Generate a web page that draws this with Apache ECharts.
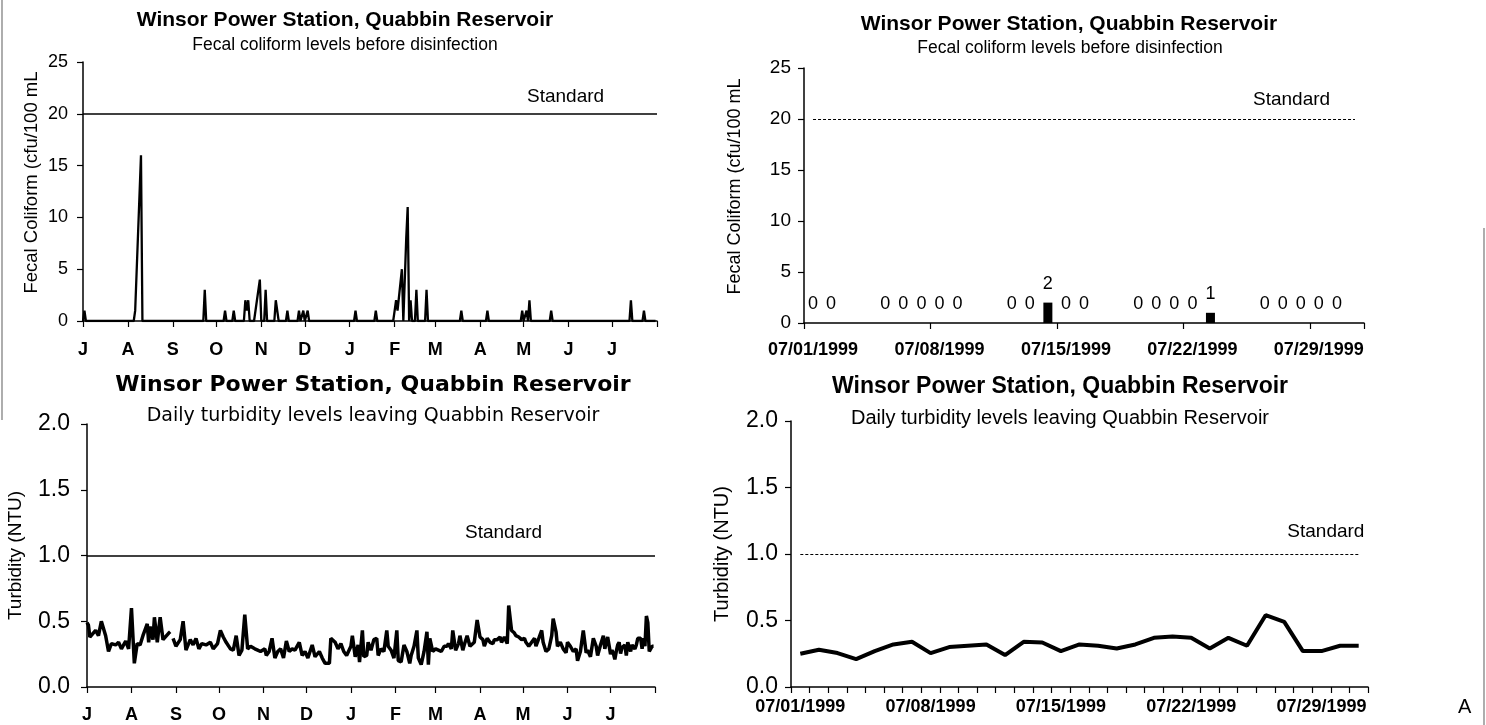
<!DOCTYPE html>
<html><head><meta charset="utf-8">
<script src="https://cdn.jsdelivr.net/npm/echarts@6/dist/echarts.min.js"></script>
<style>html,body{margin:0;padding:0;background:#fff}#c{width:1486px;height:725px}</style>
</head><body><div id="c"></div>
<script>
// ---- Data (days counted from 07/01/1998) ----
const monthTickDays = [0,31,62,92,123,153,184,215,243,274,304,335,365,396];
const monthLetters = ['J','A','S','O','N','D','J','F','M','A','M','J','J'];

// Fecal coliform, July 1998 - July 1999: [day, cfu/100 mL]
const coliformReadings = [
  [0,0],[1,1],[2,0],
  [35,0],[36,1],[37,1],[40,16],[41,0],
  [83,0],[84,3],[85,0],
  [97,0],[98,1],[99,0],
  [103,0],[104,1],[105,0],
  [111,0],[112,2],[113,1],[114,2],[115,0],
  [118,0],[120,2],[122,4],[123,0],
  [125,0],[126,3],[127,0],
  [132,0],[133,2],[134,2],[135,0],
  [140,0],[141,1],[142,0],
  [148,0],[149,1],[150,0],[152,1],[153,0],[155,1],[156,0],
  [187,0],[188,1],[189,0],
  [201,0],[202,1],[203,0],
  [214,0],[215,1],[216,2],[217,1],[218,1],[220,5],[221,0],[222,0],[223,8],[224,11],[225,0],[226,2],[227,0],
  [229,0],[230,3],[231,0],
  [236,0],[237,3],[238,0],
  [260,0],[261,1],[262,0],
  [278,0],[279,1],[280,0],
  [302,0],[303,1],[304,0],[306,1],[307,0],[308,2],[309,0],
  [322,0],[323,1],[324,0],
  [377,0],[378,2],[379,0],
  [386,0],[387,1],[388,0],
  [395,0]
];

// Daily turbidity, July 1998 - June 1999: [day, NTU]
const turbidityReadings = [
  [0,0.49],[1,0.47],[2,0.38],[6,0.43],[8,0.39],[10,0.50],[13,0.39],[15,0.27],[17,0.33],[20,0.32],
  [22,0.34],[24,0.29],[27,0.35],[29,0.29],[31,0.60],[33,0.18],[35,0.33],[37,0.32],[39,0.39],[42,0.48],
  [43,0.34],[44,0.46],[46,0.36],[47,0.53],[49,0.34],[51,0.53],[53,0.36],[54,0.37],[57,0.41],[58,0.42],
  [59,null],[60,0.37],[62,0.31],[65,0.36],[67,0.50],[69,0.28],[72,0.36],[74,0.32],[76,0.37],[78,0.29],
  [80,0.33],[83,0.32],[86,0.34],[88,0.29],[91,0.33],[93,0.43],[95,0.38],[97,0.34],[100,0.29],[102,0.28],
  [104,0.39],[106,0.24],[108,0.28],[110,0.55],[112,0.29],[114,0.31],[117,0.29],[119,0.28],[121,0.27],[124,0.29],
  [125,0.24],[127,0.27],[129,0.37],[131,0.22],[133,0.27],[135,0.29],[137,0.22],[139,0.35],[141,0.27],[143,0.29],
  [145,0.28],[148,0.34],[150,0.24],[152,0.27],[154,0.22],[157,0.32],[159,0.23],[162,0.27],[164,0.22],[166,0.18],
  [169,0.18],[170,0.37],[173,0.34],[175,0.29],[177,0.33],[179,0.27],[181,0.24],[184,0.31],[185,0.39],[187,0.23],
  [189,0.32],[190,0.19],[192,0.43],[193,0.23],[195,0.24],[196,0.34],[198,0.28],[200,0.36],[202,0.37],[203,0.24],
  [205,0.29],[207,0.27],[209,0.43],[210,0.31],[212,0.28],[214,0.22],[216,0.43],[217,0.20],[219,0.19],[221,0.32],
  [223,0.27],[225,0.18],[226,0.24],[228,0.31],[230,0.43],[231,0.22],[233,0.17],[235,0.27],[237,0.42],[238,0.17],
  [239,0.37],[241,0.27],[243,0.29],[245,0.28],[247,0.27],[249,0.31],[251,0.31],[252,0.33],[254,0.29],[255,0.43],
  [257,0.28],[259,0.33],[260,0.39],[262,0.28],[263,0.32],[265,0.39],[267,0.31],[268,0.31],[270,0.34],[272,0.51],
  [274,0.38],[276,0.36],[277,0.31],[279,0.37],[281,0.34],[283,0.33],[284,0.36],[286,0.36],[288,0.38],[289,0.34],
  [291,0.38],[293,0.33],[294,0.62],[296,0.43],[298,0.41],[299,0.39],[301,0.38],[303,0.36],[305,0.37],[306,0.34],
  [308,0.31],[310,0.34],[312,0.37],[313,0.31],[315,0.37],[317,0.43],[318,0.34],[320,0.27],[322,0.29],[324,0.39],
  [325,0.52],[327,0.42],[328,0.31],[330,0.34],[332,0.29],[334,0.26],[335,0.34],[337,0.31],[339,0.27],[341,0.29],
  [342,0.20],[344,0.27],[346,0.43],[348,0.26],[349,0.28],[351,0.23],[353,0.37],[355,0.31],[356,0.24],[358,0.32],
  [360,0.39],[361,0.29],[363,0.38]
];

// July 1999 detail
const julyDates = ['07/01/1999','07/02/1999','07/03/1999','07/04/1999','07/05/1999','07/06/1999','07/07/1999',
  '07/08/1999','07/09/1999','07/10/1999','07/11/1999','07/12/1999','07/13/1999','07/14/1999','07/15/1999',
  '07/16/1999','07/17/1999','07/18/1999','07/19/1999','07/20/1999','07/21/1999','07/22/1999','07/23/1999',
  '07/24/1999','07/25/1999','07/26/1999','07/27/1999','07/28/1999','07/29/1999','07/30/1999','07/31/1999'];
const julyColiform = [0,0,null,null,0,0,0,0,0,null,null,0,0,2,0,0,null,null,0,0,0,0,1,null,null,0,0,0,0,0,null];
const julyTurbidity = [0.25,0.28,0.255,0.21,0.27,0.32,0.34,0.255,0.30,0.31,0.32,0.24,0.34,0.335,0.27,0.32,
  0.31,0.29,0.32,0.37,0.38,0.37,0.29,0.37,0.31,0.54,0.49,0.27,0.27,0.31,0.31];
const julyStartDay = 365;

const coliformStandard = 20;
const turbidityStandard = 1.0;

// ---- Chart ----
const SANS = '"Liberation Sans", Arial, sans-serif';
const WIDE = '"DejaVu Sans", sans-serif';
const BLACK = '#000';

const turbidityYear = turbidityReadings.concat(julyTurbidity.map((v, i) => [julyStartDay + i, v]));

function titleItem(text, left, top, size, bold, family) {
  return { text, left, top, textAlign: 'center', padding: 0,
    textStyle: { fontFamily: family || SANS, fontSize: size, fontWeight: bold ? 'bold' : 'normal', color: BLACK } };
}
const axisLineStyle = { show: true, lineStyle: { color: BLACK, width: 1.5 } };
function tickStyle(extra) { return Object.assign({ show: true, length: 6, lineStyle: { color: BLACK, width: 1.2 } }, extra || {}); }

function monthXAxis(gridIndex, margin) {
  return {
    type: 'value', gridIndex, min: 0, max: 396,
    axisLine: axisLineStyle,
    axisTick: tickStyle({ customValues: monthTickDays }),
    axisLabel: { customValues: monthTickDays.slice(0, 13), margin, fontFamily: SANS, fontWeight: 'bold', fontSize: 18, color: BLACK,
      formatter: v => monthLetters[monthTickDays.indexOf(v)] },
    splitLine: { show: false }
  };
}
function dateXAxis(gridIndex, margin, tickInterval) {
  return {
    type: 'category', gridIndex, data: julyDates, boundaryGap: true,
    axisLine: axisLineStyle,
    axisTick: tickStyle({ interval: tickInterval, alignWithLabel: false }),
    axisLabel: { interval: 6, margin, fontFamily: SANS, fontWeight: 'bold', fontSize: 18, color: BLACK },
    splitLine: { show: false }
  };
}
function yAx(gridIndex, max, interval, name, nameGap, nameSize, labelSize, margin, decimals, namePad) {
  return {
    type: 'value', gridIndex, min: 0, max, interval,
    name, nameLocation: 'middle', nameGap,
    nameTextStyle: { fontFamily: SANS, fontSize: nameSize, color: BLACK, padding: namePad || 0 },
    axisLine: axisLineStyle, axisTick: tickStyle(),
    axisLabel: { margin, fontFamily: SANS, fontSize: labelSize, color: BLACK,
      formatter: v => decimals ? v.toFixed(decimals) : String(v) },
    splitLine: { show: false }
  };
}
function stdLabel(dx, dy) {
  return { show: true, position: 'insideStartTop', formatter: 'Standard', distance: [dx, dy],
    fontFamily: SANS, fontSize: 19, color: BLACK };
}

const option = {
  animation: false,
  backgroundColor: '#fff',
  title: [
    titleItem('Winsor Power Station, Quabbin Reservoir', 345, 9.5, 21, true),
    titleItem('Fecal coliform levels before disinfection', 345, 36, 17.5, false),
    titleItem('Winsor Power Station, Quabbin Reservoir', 1069, 13.5, 21, true),
    titleItem('Fecal coliform levels before disinfection', 1070, 39, 17.5, false),
    titleItem('Winsor Power Station, Quabbin Reservoir', 373, 374, 22, true, WIDE),
    titleItem('Daily turbidity levels leaving Quabbin Reservoir', 373, 406.5, 19, false, WIDE),
    titleItem('Winsor Power Station, Quabbin Reservoir', 1060, 375.5, 23, true),
    titleItem('Daily turbidity levels leaving Quabbin Reservoir', 1060, 408, 20, false)
  ],
  grid: [
    { left: 83, top: 62, width: 574, height: 259, containLabel: false, outerBoundsMode: 'none' },
    { left: 804, top: 68, width: 560, height: 255, containLabel: false, outerBoundsMode: 'none' },
    { left: 87, top: 424, width: 568, height: 263, containLabel: false, outerBoundsMode: 'none' },
    { left: 791, top: 421, width: 577, height: 266, containLabel: false, outerBoundsMode: 'none' }
  ],
  xAxis: [
    monthXAxis(0, 20),
    dateXAxis(1, 18, 6),
    monthXAxis(2, 19),
    dateXAxis(3, 11, 0)
  ],
  yAxis: [
    yAx(0, 25, 5, 'Fecal Coliform (cfu/100 mL', 42, 18.5, 18, 15, 0, [0, 0, 0, 18]),
    yAx(1, 25, 5, 'Fecal Coliform (cfu/100 mL', 60, 18, 19, 13, 0, [0, 0, 0, 18]),
    yAx(2, 2, 0.5, 'Turbidity (NTU)', 62, 19, 23, 17, 1),
    yAx(3, 2, 0.5, 'Turbidity (NTU)', 59, 20, 23, 13, 1)
  ],
  series: [
    {
      type: 'line', xAxisIndex: 0, yAxisIndex: 0, data: coliformReadings,
      showSymbol: false, symbol: 'none', lineStyle: { color: BLACK, width: 2.3 },
      markLine: { silent: true, symbol: 'none', lineStyle: { color: BLACK, type: 'solid', width: 1.5 },
        label: stdLabel(444, 7.5), data: [{ yAxis: coliformStandard }] }
    },
    {
      type: 'bar', xAxisIndex: 1, yAxisIndex: 1, data: julyColiform, barWidth: 9,
      itemStyle: { color: BLACK },
      label: { show: true, position: 'top', distance: 10, fontFamily: SANS, fontSize: 18, color: BLACK,
        formatter: p => (p.value == null ? '' : String(p.value)) },
      markLine: { silent: true, symbol: 'none', lineStyle: { color: BLACK, type: [3, 2], width: 1.2 },
        label: stdLabel(440, 9.5),
        data: [[{ coord: [julyDates[0], coliformStandard] }, { coord: [julyDates[julyDates.length - 1], coliformStandard] }]] }
    },
    {
      type: 'line', xAxisIndex: 2, yAxisIndex: 2, data: turbidityYear, connectNulls: false,
      showSymbol: false, symbol: 'none', lineStyle: { color: BLACK, width: 3.5 },
      markLine: { silent: true, symbol: 'none', lineStyle: { color: BLACK, type: 'solid', width: 1.5 },
        label: stdLabel(378, 13.5), data: [{ yAxis: turbidityStandard }] }
    },
    {
      type: 'line', xAxisIndex: 3, yAxisIndex: 3, data: julyTurbidity,
      showSymbol: false, symbol: 'none', lineStyle: { color: BLACK, width: 4 },
      markLine: { silent: true, symbol: 'none', lineStyle: { color: BLACK, type: [3, 2], width: 1.2 },
        label: stdLabel(487, 12.5),
        data: [[{ coord: [julyDates[0], turbidityStandard] }, { coord: [julyDates[julyDates.length - 1], turbidityStandard] }]] }
    }
  ],
  graphic: [
    { type: 'line', silent: true, shape: { x1: 2, y1: 0, x2: 2, y2: 420 }, style: { stroke: '#777', lineWidth: 1.2 } },
    { type: 'line', silent: true, shape: { x1: 1484, y1: 228, x2: 1484, y2: 725 }, style: { stroke: '#777', lineWidth: 1.2 } },
    { type: 'text', left: 1458, top: 697, silent: true, style: { text: 'A', fontFamily: SANS, fontSize: 20, fill: BLACK } }
  ]
};

const chart = echarts.init(document.getElementById('c'), null, { renderer: 'canvas' });
chart.setOption(option);
</script>
</body></html>
